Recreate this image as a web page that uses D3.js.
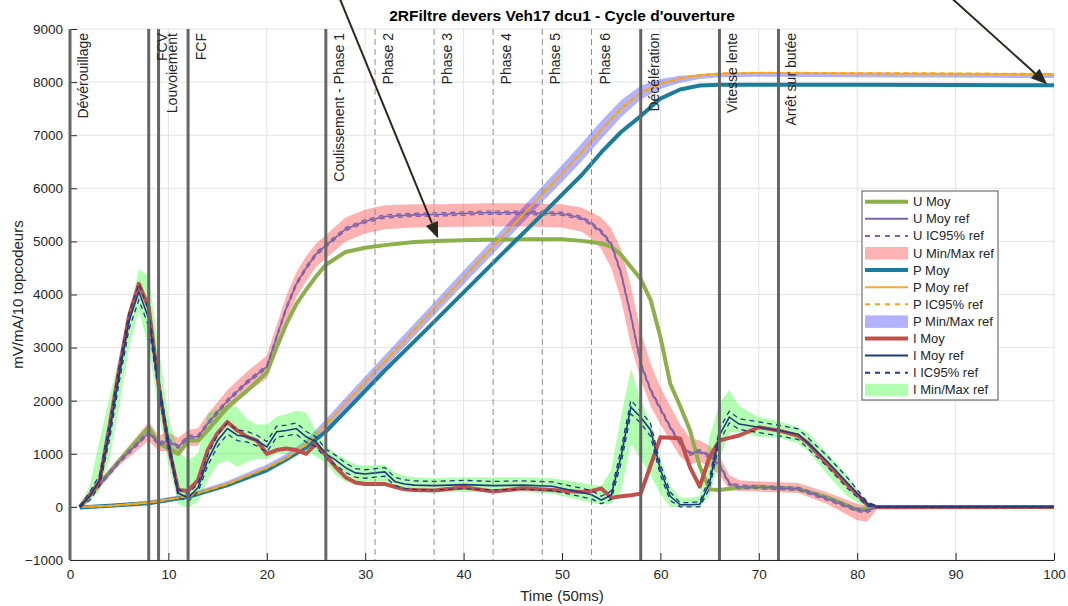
<!DOCTYPE html>
<html>
<head>
<meta charset="utf-8">
<script src="https://cdnjs.cloudflare.com/ajax/libs/d3/7.8.5/d3.min.js"></script>
<style>
  body{margin:0;background:#fff;}
  text{font-family:"Liberation Sans",Arial,sans-serif;fill:#262626;}
</style>
</head>
<body>
<div class="chart-container"></div>
<script>
//Data : U (tension), P (position), I (courant)
const tU = [1,3,5,8,9, 10,11,12,13,14, 16,18,20,21,22, 23,24,25,26,28, 30,32,35,38,42, 46,50,52,53,54, 55,56,57,58,59, 60,61,62,63,64, 65,66,67,68,70, 74,77,80,81,82, 100];
const uMoy = [0,430,870,1500,1200, 1100,1000,1250,1250,1440, 1880,2190,2530,3000,3450, 3820,4090,4340,4560,4800, 4880,4930,4990,5010,5030, 5040,5040,5010,4990,4960, 4900,4750,4520,4290,3900, 3200,2320,1900,1450,760, 330,320,340,360,380, 340,180,-50,-40,0, 0];
const uRef = [0,420,850,1400,1190, 1250,1130,1320,1320,1570, 2000,2350,2640,3200,3750, 4200,4500,4760,4920,5230, 5380,5470,5500,5510,5540, 5540,5520,5440,5330,5180, 4950,4400,3600,2700,2200, 1850,1500,1200,1000,1050, 950,800,440,380,370, 340,150,-60,-80,0, 0];
const uIcLo = [-10,390,820,1370,1160, 1220,1100,1290,1290,1540, 1970,2320,2610,3170,3720, 4170,4470,4730,4890,5200, 5350,5440,5470,5480,5510, 5510,5490,5410,5300,5150, 4920,4370,3570,2670,2170, 1820,1470,1170,970,1020, 920,770,410,350,340, 310,120,-90,-110,-10, -10];
const uIcHi = [10,450,880,1430,1220, 1280,1160,1350,1350,1600, 2030,2380,2670,3230,3780, 4230,4530,4790,4950,5260, 5410,5500,5530,5540,5570, 5570,5550,5470,5360,5210, 4980,4430,3630,2730,2230, 1880,1530,1230,1030,1080, 980,830,470,410,400, 370,180,-30,-50,10, 10];
const uMin = [-30,350,780,1250,1050, 1050,950,1150,1150,1400, 1800,2150,2420,2950,3480, 3950,4250,4520,4680,5000, 5150,5230,5260,5270,5280, 5280,5260,5180,5050,4850, 4500,3900,3050,2400,1900, 1550,1250,950,800,850, 750,600,330,300,290, 260,50,-250,-280,-50, -30];
const uMax = [30,500,930,1600,1350, 1400,1300,1450,1480,1750, 2200,2550,2850,3420,3980, 4420,4720,4960,5120,5450, 5600,5680,5700,5700,5720, 5720,5700,5640,5550,5450, 5250,4850,4150,3300,2700, 2250,1900,1550,1300,1250, 1150,950,600,500,480, 450,270,60,20,30, 30];

const tP = [1,4,8,12,16, 20,22,24,26,28, 32,36,40,44,48, 50,52,54,56,58, 60,62,64,66,70, 80,90,100];
const pMoy = [-10,20,70,190,410, 690,900,1120,1420,1800, 2570,3300,4040,4780,5510, 5880,6250,6680,7060,7360, 7690,7860,7935,7950,7950, 7950,7945,7940];
const pRef = [0,20,80,200,430, 730,920,1170,1550,1950, 2740,3530,4320,5100,5890, 6280,6680,7100,7500,7800, 7970,8070,8130,8160,8175, 8165,8160,8150];
const pIcLo = [-10,10,70,190,420, 720,910,1160,1540,1940, 2730,3520,4310,5090,5880, 6270,6670,7090,7490,7790, 7960,8060,8120,8150,8165, 8155,8150,8140];
const pIcHi = [10,30,90,210,440, 740,930,1180,1560,1960, 2750,3540,4330,5110,5900, 6290,6690,7110,7510,7810, 7980,8080,8140,8170,8185, 8175,8170,8160];
const pMin = [-20,-10,40,150,370, 660,840,1080,1450,1840, 2620,3410,4190,4960,5740, 6120,6510,6930,7340,7670, 7870,7990,8060,8090,8100, 8090,8085,8075];
const pMax = [20,50,120,250,490, 800,1000,1260,1650,2060, 2860,3650,4450,5240,6040, 6440,6850,7270,7660,7930, 8060,8120,8150,8170,8185, 8175,8170,8160];

const tI = [1,2,3,4,5,6,7,8,9,10, 11,12,13,14,15,16,17,18,19,20, 21,22,23,24,25,26,27,28,29,30, 31,32,33,34,35,37,40,43,46,49, 52,53,54,55,56,57,58,59,60,61, 62,63,64,65,66,67,68,70,72,74, 75,77,79,81,82,100];
const iMoy = [0,220,480,1500,2600,3600,4200,3750,2300,1150,
  320,300,500,1070,1390,1600,1440,1320,1250,1000,
  1070,1100,1070,1000,1190,970,750,560,460,430,
  430,430,380,330,320,310,370,290,350,320,
  280,300,350,170,200,220,250,780,1310,1300,
  1290,750,380,940,1250,1300,1345,1500,1440,1340,
  1200,800,420,50,0,0];
const iRef = [0,200,500,1400,2500,3500,4050,3550,2300,1200,
  260,170,360,880,1250,1475,1350,1320,1250,1130,
  1415,1440,1475,1320,1225,1000,880,740,640,620,
  640,660,480,430,410,400,420,400,410,390,
  270,230,130,220,950,1880,1690,1450,700,200,
  40,40,50,450,1350,1690,1560,1500,1440,1370,
  1200,850,450,60,0,0];
const iIcLo = [-10,120,400,1250,2350,3350,3900,3400,2180,1100,
  180,100,280,780,1140,1370,1250,1220,1150,1030,
  1310,1340,1370,1220,1130,910,790,650,560,540,
  560,580,400,350,330,320,340,320,330,310,
  190,150,60,140,820,1750,1580,1330,600,120,
  0,0,0,350,1230,1580,1460,1400,1340,1270,
  1100,750,350,20,-10,-10];
const iIcHi = [10,280,600,1550,2650,3650,4200,3700,2420,1300,
  340,240,440,980,1360,1580,1450,1420,1350,1230,
  1520,1540,1580,1420,1320,1090,970,830,720,700,
  720,740,560,510,490,480,500,480,490,470,
  350,310,200,300,1080,2010,1800,1570,800,280,
  80,80,100,550,1470,1800,1660,1600,1540,1470,
  1300,950,550,100,10,10];
const iMin = [-30,100,300,900,1900,3000,3700,3000,1800,800,
  50,-20,100,500,800,880,750,850,900,900,
  1000,1000,1060,1060,950,820,600,480,420,420,
  420,400,340,300,280,270,280,280,280,250,
  120,80,50,50,300,1200,900,600,250,0,
  0,0,0,200,900,1400,1400,1320,1300,1200,
  1050,600,200,-20,-20,-20];
const iMax = [30,400,1250,2060,2810,3630,4480,4350,3000,1700,
  1050,880,1000,1760,1850,1900,1880,1650,1550,1550,
  1700,1750,1810,1780,1440,1150,1000,900,800,780,
  790,800,650,580,560,540,560,560,560,540,
  450,420,400,700,1700,2600,2000,1600,900,400,
  170,170,200,1320,1950,2200,1900,1690,1620,1500,
  1400,1000,600,60,20,20];

//Events (phases du cycle)
const eventTimes = [0,8,9,12,26,31,37,43,48,53,58,66,72];
const eventLabels = ['Dévérouillage','FCV','Louvoiement','FCF','Coulissement - Phase 1','Phase 2','Phase 3','Phase 4','Phase 5','Phase 6','Décélération','Vitesse lente','Arrêt sur butée'];
const eventDashed = [false,false,false,false,false,true,true,true,true,true,false,false,false];

const xTicks = [0,10,20,30,40,50,60,70,80,90,100];
const yTicks = [-1000,0,1000,2000,3000,4000,5000,6000,7000,8000,9000];

//Annotations (flèches), en coordonnées données
const arrowFrom = [[27.4,9580],[89.6,9580]];
const arrowTo = [[37.4,5060],[99.3,7960]];

function rows(t, ...cols){
  cols.forEach(c => { if(c.length !== t.length) throw new Error('length mismatch ' + c.length + ' vs ' + t.length); });
  return t.map((d,i) => ({t:d, v:cols.map(c => c[i])}));
}

function setupCanvas(){
  const svg_width = 1068, svg_height = 606;
  const svg = d3.select('.chart-container').append('svg')
    .attr('width', svg_width).attr('height', svg_height);

  const x = d3.scaleLinear([0,100],[70,1054]);
  const y = d3.scaleLinear([-1000,9000],[560,29]);

  //grid
  const grid = svg.append('g').attr('class','grid');
  grid.selectAll('.gx').data(xTicks).enter().append('line')
    .attr('x1',d=>x(d)).attr('x2',d=>x(d)).attr('y1',y(-1000)).attr('y2',y(9000))
    .style('stroke','#e3e3e3').style('stroke-width',1);
  grid.selectAll('.gy').data(yTicks).enter().append('line')
    .attr('x1',x(0)).attr('x2',x(100)).attr('y1',d=>y(d)).attr('y2',d=>y(d))
    .style('stroke','#e3e3e3').style('stroke-width',1);

  const U = rows(tU, uMoy, uRef, uIcLo, uIcHi, uMin, uMax);
  const P = rows(tP, pMoy, pRef, pIcLo, pIcHi, pMin, pMax);
  const I = rows(tI, iMoy, iRef, iIcLo, iIcHi, iMin, iMax);

  const area = d3.area().x(d=>x(d.t)).y0(d=>y(d.v[4])).y1(d=>y(d.v[5]));
  const line = k => d3.line().x(d=>x(d.t)).y(d=>y(d.v[k]));

  const plot = svg.append('g').attr('class','plot');
  //bandes Min/Max
  [[U,'#ff0000'],[P,'#0000ff'],[I,'#00ff00']].forEach(([data,col]) => {
    plot.append('path').attr('d',area(data)).style('fill',col).style('fill-opacity',0.3).style('stroke','none');
  });

  const series = [
    [U,'#8cb04c','#7d63aa'],
    [P,'#1b7d99','#f2aa3c','#ffa500'],
    [I,'#c1504d','#1f3b80']
  ];
  series.forEach(([data,cMoy,cRef,cIc]) => {
    plot.append('path').attr('d',line(0)(data)).style('fill','none').style('stroke',cMoy).style('stroke-width',4).style('stroke-linejoin','round');
    plot.append('path').attr('d',line(1)(data)).style('fill','none').style('stroke',cRef).style('stroke-width',1.6);
    [2,3].forEach(k => {
      plot.append('path').attr('d',line(k)(data)).style('fill','none').style('stroke',cIc||cRef)
        .style('stroke-width',1.3).style('stroke-dasharray','5,4');
    });
  });

  //axes
  const xAxis = d3.axisBottom(x).tickValues(xTicks).tickFormat(d3.format('d'))
    .tickSizeInner(-7).tickSizeOuter(0).tickPadding(9);
  const xAxisDraw = svg.append('g').attr('class','xaxis')
    .attr('transform',`translate(0,${y(-1000)})`).call(xAxis);
  const yAxis = d3.axisLeft(y).tickValues(yTicks).tickFormat(d3.format('d'))
    .tickSizeInner(-7).tickSizeOuter(0).tickPadding(7);
  const yAxisDraw = svg.append('g').attr('class','yaxis')
    .attr('transform',`translate(${x(0)},0)`).call(yAxis);
  [xAxisDraw,yAxisDraw].forEach(a => {
    a.select('.domain').style('stroke','#262626');
    a.selectAll('line').style('stroke','#262626');
    a.selectAll('text').style('font-size','13.5px').style('fill','#262626');
  });

  //événements
  const ev = svg.append('g').attr('class','events');
  ev.selectAll('.ev').data(eventTimes).enter().append('line')
    .attr('x1',d=>x(d)).attr('x2',d=>x(d)).attr('y1',y(9000)).attr('y2',y(-1000))
    .style('stroke',(d,i)=>eventDashed[i] ? '#8c8c8c' : '#666')
    .style('stroke-width',(d,i)=>eventDashed[i] ? 1 : 3)
    .style('stroke-dasharray',(d,i)=>eventDashed[i] ? '6,4' : null);
  ev.selectAll('.evl').data(eventTimes).enter().append('text')
    .attr('transform',d=>`translate(${x(d)+18},${y(9000)+4}) rotate(-90)`)
    .attr('text-anchor','end')
    .style('font-size','14px')
    .text((d,i)=>eventLabels[i]);

  //titres
  svg.append('text').attr('x',(x(0)+x(100))/2).attr('y',21).attr('text-anchor','middle')
    .style('font-size','15.5px').style('font-weight','bold').style('fill','#000')
    .text("2RFiltre devers Veh17 dcu1 - Cycle d'ouverture");
  svg.append('text').attr('x',(x(0)+x(100))/2).attr('y',601).attr('text-anchor','middle')
    .style('font-size','15px').text('Time (50ms)');
  svg.append('text').attr('transform',`translate(23,${(y(-1000)+y(9000))/2}) rotate(-90)`)
    .attr('text-anchor','middle').style('font-size','15px').text('mV/mA/10 topcodeurs');

  //légende
  const legendItems = [
    ['U Moy','line','#8cb04c',4],['U Moy ref','line','#7d63aa',2],['U IC95% ref','dash','#7d63aa',2],['U Min/Max ref','area','#ff0000'],
    ['P Moy','line','#1b7d99',4],['P Moy ref','line','#f2aa3c',2],['P IC95% ref','dash','#ffa500',2],['P Min/Max ref','area','#0000ff'],
    ['I Moy','line','#c1504d',4],['I Moy ref','line','#1f3b80',2],['I IC95% ref','dash','#1f3b80',2],['I Min/Max ref','area','#00ff00']
  ];
  const legend = svg.append('g').attr('class','legend').attr('transform','translate(862,191)');
  legend.append('rect').attr('width',136).attr('height',209)
    .style('fill','#fff').style('stroke','#555').style('stroke-width',1);
  const li = legend.selectAll('.li').data(legendItems).enter().append('g')
    .attr('transform',(d,i)=>`translate(0,${10.7 + i*17.1})`);
  li.filter(d=>d[1]!=='area').append('line').attr('x1',3).attr('x2',46).attr('y1',0).attr('y2',0)
    .style('stroke',d=>d[2]).style('stroke-width',d=>d[3])
    .style('stroke-dasharray',d=>d[1]==='dash' ? '5,5' : null);
  li.filter(d=>d[1]==='area').append('rect').attr('x',3).attr('y',-6).attr('width',43).attr('height',12.5)
    .style('fill',d=>d[2]).style('fill-opacity',0.3);
  li.append('text').attr('x',51).attr('dy','0.35em').style('font-size','13px').text(d=>d[0]);

  //flèches
  const arrows = svg.append('g').attr('class','arrows');
  arrowFrom.forEach((f,i) => {
    const x1 = x(f[0]), y1 = y(f[1]), x2 = x(arrowTo[i][0]), y2 = y(arrowTo[i][1]);
    const a = Math.atan2(y2-y1, x2-x1), L = 16, W = 6.5;
    const bx = x2 - L*Math.cos(a), by = y2 - L*Math.sin(a);
    arrows.append('line').attr('x1',x1).attr('y1',y1).attr('x2',bx).attr('y2',by)
      .style('stroke','#2b2723').style('stroke-width',2);
    arrows.append('path')
      .attr('d',`M${x2},${y2}L${bx + W*Math.sin(a)},${by - W*Math.cos(a)}L${bx - W*Math.sin(a)},${by + W*Math.cos(a)}Z`)
      .style('fill','#2b2723');
  });
}

setupCanvas();
</script>
</body>
</html>
